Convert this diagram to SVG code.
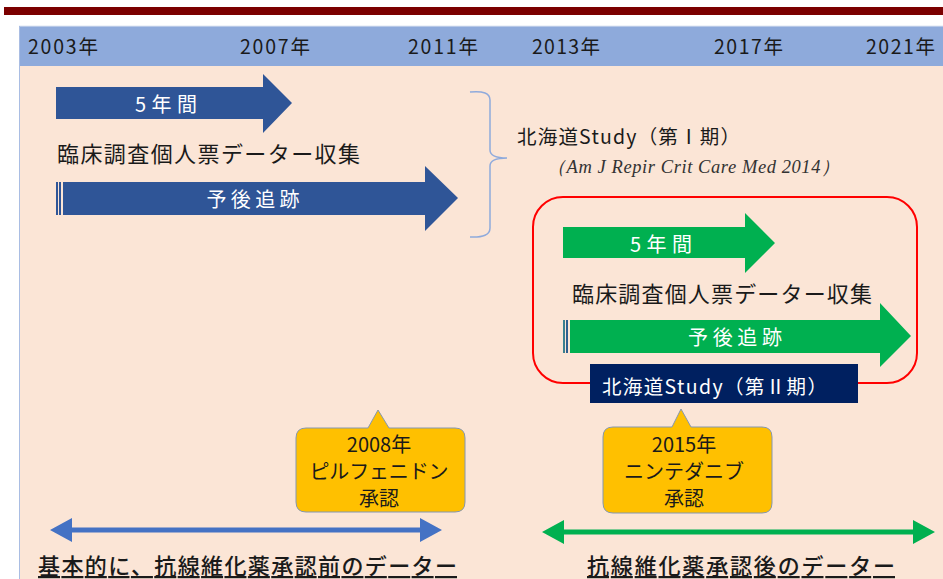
<svg xmlns="http://www.w3.org/2000/svg" width="943" height="579" viewBox="0 0 943 579">
<defs>
<style>
.t{font-family:"Noto Sans CJK JP","Noto Sans",sans-serif;dominant-baseline:central}
.yr{font-size:19.5px;fill:#1a1a1a}
.w{fill:#ffffff;font-size:20px;text-anchor:middle}
.k{fill:#1a1a1a;font-size:22px}
.c{fill:#1a1a1a;font-size:20px;text-anchor:middle}
.blue{fill:#2f5597}
.green{fill:#00b050}
.call{fill:#ffc000;stroke:#8497b0;stroke-width:1}
.u{fill:#1a1a1a;font-size:22px;text-decoration:underline;font-weight:500}
</style>
</defs>
<rect x="0" y="0" width="943" height="579" fill="#ffffff"/>
<rect x="4" y="7" width="939" height="8" fill="#7b0000"/>
<rect x="19" y="66" width="924" height="513" fill="#fbe5d6"/>
<rect x="19" y="26" width="924" height="40" fill="#8eaadb"/>
<line x1="19" y1="26" x2="943" y2="26" stroke="#dfe6f3" stroke-width="1"/>
<line x1="19.5" y1="26" x2="19.5" y2="579" stroke="#a9bde3" stroke-width="1"/>
<g id="years">
<text class="t yr" x="28" y="45" textLength="70">2003年</text>
<text class="t yr" x="240" y="45" textLength="70">2007年</text>
<text class="t yr" x="408" y="45" textLength="70">2011年</text>
<text class="t yr" x="532" y="45" textLength="68">2013年</text>
<text class="t yr" x="714" y="45" textLength="69">2017年</text>
<text class="t yr" x="866" y="45" textLength="69">2021年</text>
</g>
<g id="phase1-5y">
<path class="blue" d="M56,87 H263 V74 L292,103 L263,133 V119 H56 Z"/>
<text class="t w" x="166" y="103" textLength="62">5年間</text>
</g>
<g id="phase1-data">
<text class="t k" x="57" y="152" textLength="303">臨床調査個人票データー収集</text>
</g>
<g id="phase1-followup">
<rect class="blue" x="56" y="182" width="2" height="33"/>
<rect class="blue" x="59" y="182" width="2" height="33"/>
<path class="blue" d="M63,182 H425 V166 L458,198 L425,231 V215 H63 Z"/>
<text class="t w" x="253" y="198" textLength="93">予後追跡</text>
</g>
<g id="bracket">
<path d="M470,92 Q490,90 490,100 V150 Q490,158 507,158 Q490,158 490,166 V228 Q490,238 470,237" fill="none" stroke="#8faadc" stroke-width="1.5"/>
</g>
<g id="study1">
<text class="t" x="517" y="135" style="font-size:19.5px;fill:#1a1a1a" textLength="223">北海道Study（第Ⅰ期）</text>
<text x="547" y="173" style="font-family:'Liberation Serif',serif;font-style:italic;font-size:18.5px;fill:#333333" textLength="293">（Am J Repir Crit Care Med 2014）</text>
</g>
<g id="phase2-frame">
<rect x="533" y="197" width="384" height="186" rx="30" ry="30" fill="none" stroke="#ff0000" stroke-width="2"/>
</g>
<g id="phase2-5y">
<path class="green" d="M563,227 H745 V213 L775,243 L745,273 V258 H563 Z"/>
<text class="t w" x="661" y="243" textLength="62">5年間</text>
</g>
<g id="phase2-data">
<text class="t k" x="572" y="292" textLength="300">臨床調査個人票データー収集</text>
</g>
<g id="phase2-followup">
<rect x="563" y="320" width="2" height="33" fill="#3b7f8f"/>
<rect x="566" y="320" width="2" height="33" fill="#2f5f8f"/>
<path class="green" d="M570,320 H880 V303 L911,336 L880,367 V353 H570 Z"/>
<text class="t w" x="735" y="336" textLength="94">予後追跡</text>
</g>
<g id="study2">
<rect x="590" y="364" width="268" height="39" fill="#002060"/>
<text class="t" x="602" y="385" style="font-size:19.5px;fill:#ffffff" textLength="225">北海道Study（第Ⅱ期）</text>
</g>
<g id="callout-2008">
<path class="call" d="M306,428 H368 L378,410 L389,428 H455 Q465,428 465,438 V502 Q465,512 455,512 H306 Q296,512 296,502 V438 Q296,428 306,428 Z"/>
<text class="t c" x="379" y="443">2008年</text>
<text class="t c" x="379" y="470" textLength="139">ピルフェニドン</text>
<text class="t c" x="379" y="497">承認</text>
</g>
<g id="callout-2015">
<path class="call" d="M613,427 H672 L681,409 L691,427 H762 Q772,427 772,437 V503 Q772,513 762,513 H613 Q603,513 603,503 V437 Q603,427 613,427 Z"/>
<text class="t c" x="684" y="443">2015年</text>
<text class="t c" x="684" y="470">ニンテダニブ</text>
<text class="t c" x="684" y="497">承認</text>
</g>
<g id="connectors">
<path d="M50,530 L72,518 V527.5 H420 V518 L442,530 L420,542 V532.5 H72 V542 Z" fill="#4472c4"/>
<path d="M542,532 L564,520 V529.5 H913 V520 L935,532 L913,544 V534.5 H564 V544 Z" fill="#00b050"/>
</g>
<g id="label-before">
<text class="t u" x="38" y="564" textLength="419">基本的に、抗線維化薬承認前のデーター</text>
</g>
<g id="label-after">
<text class="t u" x="587" y="564" textLength="308">抗線維化薬承認後のデーター</text>
</g>
</svg>
